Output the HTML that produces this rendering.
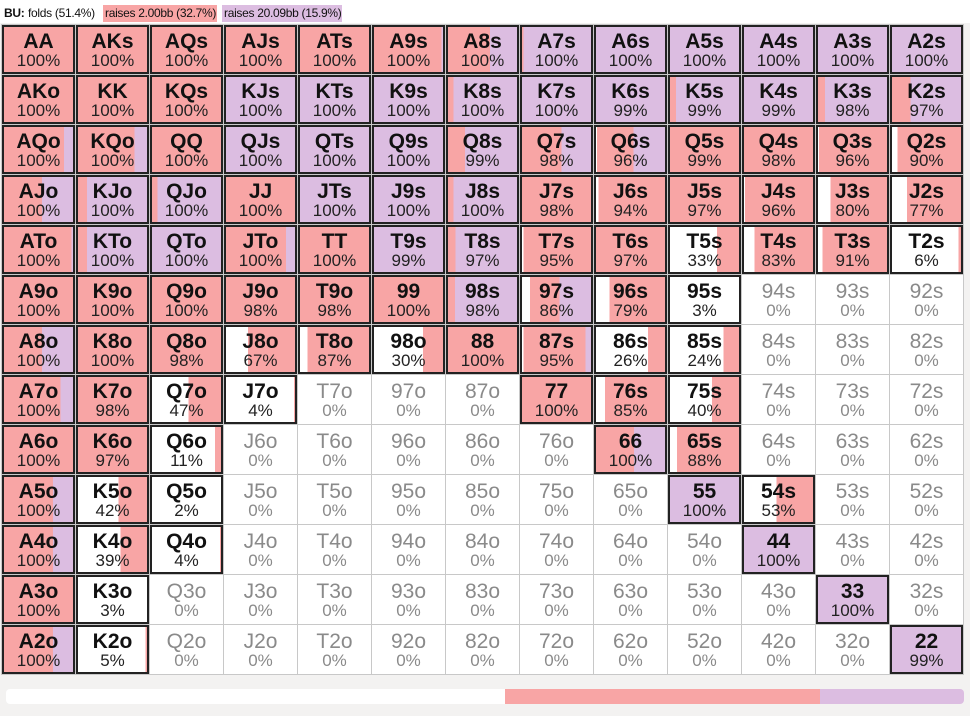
<!DOCTYPE html>
<html><head><meta charset="utf-8"><style>
body{margin:0;width:970px;height:716px;background:#f3f2f1;font-family:"Liberation Sans",Arial,sans-serif;position:relative;overflow:hidden}
.hdr{position:absolute;left:0;top:0;width:970px;height:23px;background:#fff}
.hdr span{position:absolute;top:5px;height:17px;font-size:12px;letter-spacing:-0.3px;line-height:17px;color:#111;box-sizing:border-box;padding-left:2px;white-space:nowrap;overflow:hidden}
.g{position:absolute;left:1px;top:24px;display:grid;grid-template-columns:repeat(13,74px);grid-template-rows:repeat(13,50px);background:#fff;border-left:1px solid #c8c8c8;border-top:1px solid #c8c8c8}
.c{position:relative;border-right:1px solid #c8c8c8;border-bottom:1px solid #c8c8c8;box-sizing:border-box;text-align:center;
background:linear-gradient(to right,#fff 0 var(--f),#f8a5a5 var(--f) var(--p),#dcbde1 var(--p) 100%)}
.c b{position:absolute;left:0;right:0;top:5px;font-size:21px;line-height:24px;color:#111;font-weight:bold}
.c i{position:absolute;left:0;right:0;top:27px;font-style:normal;font-size:17px;line-height:18px;color:#222}
.c.a::after{content:"";position:absolute;inset:0 0 0 0;border:2px solid #222}
.z{background:#fff}
.z b{font-weight:normal;color:#8a8a8a}
.z i{color:#8a8a8a}
.bar{position:absolute;left:6px;top:689px;width:958px;height:15px;border-radius:4px;overflow:hidden;background:linear-gradient(to right,#fff 0 499px,#f8a5a5 499px 814px,#dcbde1 814px)}
</style></head><body>
<div class="hdr">
<span style="left:2px"><b>BU:</b></span>
<span style="left:26px;width:74px;background:#fff">folds (51.4%)</span>
<span style="left:103px;width:114px;background:#f8a5a5">raises 2.00bb (32.7%)</span>
<span style="left:222px;width:120px;background:#dcbde1">raises 20.09bb (15.9%)</span>
</div>
<div class="g">
<div class="c a" style="--f:0%;--p:100%"><b>AA</b><i>100%</i></div>
<div class="c a" style="--f:0%;--p:100%"><b>AKs</b><i>100%</i></div>
<div class="c a" style="--f:0%;--p:100%"><b>AQs</b><i>100%</i></div>
<div class="c a" style="--f:0%;--p:100%"><b>AJs</b><i>100%</i></div>
<div class="c a" style="--f:0%;--p:100%"><b>ATs</b><i>100%</i></div>
<div class="c a" style="--f:0%;--p:95%"><b>A9s</b><i>100%</i></div>
<div class="c a" style="--f:0%;--p:60%"><b>A8s</b><i>100%</i></div>
<div class="c a" style="--f:0%;--p:5%"><b>A7s</b><i>100%</i></div>
<div class="c a" style="--f:0%;--p:0%"><b>A6s</b><i>100%</i></div>
<div class="c a" style="--f:0%;--p:0%"><b>A5s</b><i>100%</i></div>
<div class="c a" style="--f:0%;--p:0%"><b>A4s</b><i>100%</i></div>
<div class="c a" style="--f:0%;--p:0%"><b>A3s</b><i>100%</i></div>
<div class="c a" style="--f:0%;--p:0%"><b>A2s</b><i>100%</i></div>

<div class="c a" style="--f:0%;--p:100%"><b>AKo</b><i>100%</i></div>
<div class="c a" style="--f:0%;--p:100%"><b>KK</b><i>100%</i></div>
<div class="c a" style="--f:0%;--p:100%"><b>KQs</b><i>100%</i></div>
<div class="c a" style="--f:0%;--p:0%"><b>KJs</b><i>100%</i></div>
<div class="c a" style="--f:0%;--p:0%"><b>KTs</b><i>100%</i></div>
<div class="c a" style="--f:0%;--p:0%"><b>K9s</b><i>100%</i></div>
<div class="c a" style="--f:0%;--p:10%"><b>K8s</b><i>100%</i></div>
<div class="c a" style="--f:0%;--p:0%"><b>K7s</b><i>100%</i></div>
<div class="c a" style="--f:1%;--p:1%"><b>K6s</b><i>99%</i></div>
<div class="c a" style="--f:1%;--p:11%"><b>K5s</b><i>99%</i></div>
<div class="c a" style="--f:1%;--p:1%"><b>K4s</b><i>99%</i></div>
<div class="c a" style="--f:2%;--p:12%"><b>K3s</b><i>98%</i></div>
<div class="c a" style="--f:3%;--p:28%"><b>K2s</b><i>97%</i></div>

<div class="c a" style="--f:0%;--p:85%"><b>AQo</b><i>100%</i></div>
<div class="c a" style="--f:0%;--p:80%"><b>KQo</b><i>100%</i></div>
<div class="c a" style="--f:0%;--p:100%"><b>QQ</b><i>100%</i></div>
<div class="c a" style="--f:0%;--p:0%"><b>QJs</b><i>100%</i></div>
<div class="c a" style="--f:0%;--p:0%"><b>QTs</b><i>100%</i></div>
<div class="c a" style="--f:0%;--p:0%"><b>Q9s</b><i>100%</i></div>
<div class="c a" style="--f:1%;--p:26%"><b>Q8s</b><i>99%</i></div>
<div class="c a" style="--f:2%;--p:57%"><b>Q7s</b><i>98%</i></div>
<div class="c a" style="--f:4%;--p:54%"><b>Q6s</b><i>96%</i></div>
<div class="c a" style="--f:1%;--p:100%"><b>Q5s</b><i>99%</i></div>
<div class="c a" style="--f:2%;--p:97%"><b>Q4s</b><i>98%</i></div>
<div class="c a" style="--f:4%;--p:100%"><b>Q3s</b><i>96%</i></div>
<div class="c a" style="--f:10%;--p:100%"><b>Q2s</b><i>90%</i></div>

<div class="c a" style="--f:0%;--p:55%"><b>AJo</b><i>100%</i></div>
<div class="c a" style="--f:0%;--p:15%"><b>KJo</b><i>100%</i></div>
<div class="c a" style="--f:0%;--p:10%"><b>QJo</b><i>100%</i></div>
<div class="c a" style="--f:0%;--p:100%"><b>JJ</b><i>100%</i></div>
<div class="c a" style="--f:0%;--p:0%"><b>JTs</b><i>100%</i></div>
<div class="c a" style="--f:0%;--p:0%"><b>J9s</b><i>100%</i></div>
<div class="c a" style="--f:0%;--p:10%"><b>J8s</b><i>100%</i></div>
<div class="c a" style="--f:2%;--p:100%"><b>J7s</b><i>98%</i></div>
<div class="c a" style="--f:6%;--p:100%"><b>J6s</b><i>94%</i></div>
<div class="c a" style="--f:3%;--p:100%"><b>J5s</b><i>97%</i></div>
<div class="c a" style="--f:4%;--p:100%"><b>J4s</b><i>96%</i></div>
<div class="c a" style="--f:20%;--p:100%"><b>J3s</b><i>80%</i></div>
<div class="c a" style="--f:23%;--p:100%"><b>J2s</b><i>77%</i></div>

<div class="c a" style="--f:0%;--p:95%"><b>ATo</b><i>100%</i></div>
<div class="c a" style="--f:0%;--p:15%"><b>KTo</b><i>100%</i></div>
<div class="c a" style="--f:0%;--p:0%"><b>QTo</b><i>100%</i></div>
<div class="c a" style="--f:0%;--p:85%"><b>JTo</b><i>100%</i></div>
<div class="c a" style="--f:0%;--p:100%"><b>TT</b><i>100%</i></div>
<div class="c a" style="--f:1%;--p:1%"><b>T9s</b><i>99%</i></div>
<div class="c a" style="--f:3%;--p:13%"><b>T8s</b><i>97%</i></div>
<div class="c a" style="--f:5%;--p:100%"><b>T7s</b><i>95%</i></div>
<div class="c a" style="--f:3%;--p:100%"><b>T6s</b><i>97%</i></div>
<div class="c a" style="--f:67%;--p:100%"><b>T5s</b><i>33%</i></div>
<div class="c a" style="--f:17%;--p:100%"><b>T4s</b><i>83%</i></div>
<div class="c a" style="--f:9%;--p:100%"><b>T3s</b><i>91%</i></div>
<div class="c a" style="--f:94%;--p:100%"><b>T2s</b><i>6%</i></div>

<div class="c a" style="--f:0%;--p:100%"><b>A9o</b><i>100%</i></div>
<div class="c a" style="--f:0%;--p:100%"><b>K9o</b><i>100%</i></div>
<div class="c a" style="--f:0%;--p:100%"><b>Q9o</b><i>100%</i></div>
<div class="c a" style="--f:2%;--p:100%"><b>J9o</b><i>98%</i></div>
<div class="c a" style="--f:2%;--p:100%"><b>T9o</b><i>98%</i></div>
<div class="c a" style="--f:0%;--p:100%"><b>99</b><i>100%</i></div>
<div class="c a" style="--f:2%;--p:12%"><b>98s</b><i>98%</i></div>
<div class="c a" style="--f:14%;--p:54%"><b>97s</b><i>86%</i></div>
<div class="c a" style="--f:21%;--p:100%"><b>96s</b><i>79%</i></div>
<div class="c a" style="--f:97%;--p:100%"><b>95s</b><i>3%</i></div>
<div class="c z"><b>94s</b><i>0%</i></div>
<div class="c z"><b>93s</b><i>0%</i></div>
<div class="c z"><b>92s</b><i>0%</i></div>

<div class="c a" style="--f:0%;--p:55%"><b>A8o</b><i>100%</i></div>
<div class="c a" style="--f:0%;--p:100%"><b>K8o</b><i>100%</i></div>
<div class="c a" style="--f:2%;--p:100%"><b>Q8o</b><i>98%</i></div>
<div class="c a" style="--f:33%;--p:100%"><b>J8o</b><i>67%</i></div>
<div class="c a" style="--f:13%;--p:100%"><b>T8o</b><i>87%</i></div>
<div class="c a" style="--f:70%;--p:100%"><b>98o</b><i>30%</i></div>
<div class="c a" style="--f:0%;--p:100%"><b>88</b><i>100%</i></div>
<div class="c a" style="--f:5%;--p:90%"><b>87s</b><i>95%</i></div>
<div class="c a" style="--f:74%;--p:100%"><b>86s</b><i>26%</i></div>
<div class="c a" style="--f:76%;--p:100%"><b>85s</b><i>24%</i></div>
<div class="c z"><b>84s</b><i>0%</i></div>
<div class="c z"><b>83s</b><i>0%</i></div>
<div class="c z"><b>82s</b><i>0%</i></div>

<div class="c a" style="--f:0%;--p:80%"><b>A7o</b><i>100%</i></div>
<div class="c a" style="--f:2%;--p:100%"><b>K7o</b><i>98%</i></div>
<div class="c a" style="--f:53%;--p:100%"><b>Q7o</b><i>47%</i></div>
<div class="c a" style="--f:96%;--p:100%"><b>J7o</b><i>4%</i></div>
<div class="c z"><b>T7o</b><i>0%</i></div>
<div class="c z"><b>97o</b><i>0%</i></div>
<div class="c z"><b>87o</b><i>0%</i></div>
<div class="c a" style="--f:0%;--p:100%"><b>77</b><i>100%</i></div>
<div class="c a" style="--f:15%;--p:100%"><b>76s</b><i>85%</i></div>
<div class="c a" style="--f:60%;--p:100%"><b>75s</b><i>40%</i></div>
<div class="c z"><b>74s</b><i>0%</i></div>
<div class="c z"><b>73s</b><i>0%</i></div>
<div class="c z"><b>72s</b><i>0%</i></div>

<div class="c a" style="--f:0%;--p:100%"><b>A6o</b><i>100%</i></div>
<div class="c a" style="--f:3%;--p:100%"><b>K6o</b><i>97%</i></div>
<div class="c a" style="--f:89%;--p:100%"><b>Q6o</b><i>11%</i></div>
<div class="c z"><b>J6o</b><i>0%</i></div>
<div class="c z"><b>T6o</b><i>0%</i></div>
<div class="c z"><b>96o</b><i>0%</i></div>
<div class="c z"><b>86o</b><i>0%</i></div>
<div class="c z"><b>76o</b><i>0%</i></div>
<div class="c a" style="--f:0%;--p:55%"><b>66</b><i>100%</i></div>
<div class="c a" style="--f:12%;--p:100%"><b>65s</b><i>88%</i></div>
<div class="c z"><b>64s</b><i>0%</i></div>
<div class="c z"><b>63s</b><i>0%</i></div>
<div class="c z"><b>62s</b><i>0%</i></div>

<div class="c a" style="--f:0%;--p:70%"><b>A5o</b><i>100%</i></div>
<div class="c a" style="--f:58%;--p:100%"><b>K5o</b><i>42%</i></div>
<div class="c a" style="--f:98%;--p:100%"><b>Q5o</b><i>2%</i></div>
<div class="c z"><b>J5o</b><i>0%</i></div>
<div class="c z"><b>T5o</b><i>0%</i></div>
<div class="c z"><b>95o</b><i>0%</i></div>
<div class="c z"><b>85o</b><i>0%</i></div>
<div class="c z"><b>75o</b><i>0%</i></div>
<div class="c z"><b>65o</b><i>0%</i></div>
<div class="c a" style="--f:0%;--p:0%"><b>55</b><i>100%</i></div>
<div class="c a" style="--f:47%;--p:100%"><b>54s</b><i>53%</i></div>
<div class="c z"><b>53s</b><i>0%</i></div>
<div class="c z"><b>52s</b><i>0%</i></div>

<div class="c a" style="--f:0%;--p:70%"><b>A4o</b><i>100%</i></div>
<div class="c a" style="--f:61%;--p:100%"><b>K4o</b><i>39%</i></div>
<div class="c a" style="--f:96%;--p:100%"><b>Q4o</b><i>4%</i></div>
<div class="c z"><b>J4o</b><i>0%</i></div>
<div class="c z"><b>T4o</b><i>0%</i></div>
<div class="c z"><b>94o</b><i>0%</i></div>
<div class="c z"><b>84o</b><i>0%</i></div>
<div class="c z"><b>74o</b><i>0%</i></div>
<div class="c z"><b>64o</b><i>0%</i></div>
<div class="c z"><b>54o</b><i>0%</i></div>
<div class="c a" style="--f:0%;--p:0%"><b>44</b><i>100%</i></div>
<div class="c z"><b>43s</b><i>0%</i></div>
<div class="c z"><b>42s</b><i>0%</i></div>

<div class="c a" style="--f:0%;--p:100%"><b>A3o</b><i>100%</i></div>
<div class="c a" style="--f:97%;--p:100%"><b>K3o</b><i>3%</i></div>
<div class="c z"><b>Q3o</b><i>0%</i></div>
<div class="c z"><b>J3o</b><i>0%</i></div>
<div class="c z"><b>T3o</b><i>0%</i></div>
<div class="c z"><b>93o</b><i>0%</i></div>
<div class="c z"><b>83o</b><i>0%</i></div>
<div class="c z"><b>73o</b><i>0%</i></div>
<div class="c z"><b>63o</b><i>0%</i></div>
<div class="c z"><b>53o</b><i>0%</i></div>
<div class="c z"><b>43o</b><i>0%</i></div>
<div class="c a" style="--f:0%;--p:0%"><b>33</b><i>100%</i></div>
<div class="c z"><b>32s</b><i>0%</i></div>

<div class="c a" style="--f:0%;--p:70%"><b>A2o</b><i>100%</i></div>
<div class="c a" style="--f:95%;--p:100%"><b>K2o</b><i>5%</i></div>
<div class="c z"><b>Q2o</b><i>0%</i></div>
<div class="c z"><b>J2o</b><i>0%</i></div>
<div class="c z"><b>T2o</b><i>0%</i></div>
<div class="c z"><b>92o</b><i>0%</i></div>
<div class="c z"><b>82o</b><i>0%</i></div>
<div class="c z"><b>72o</b><i>0%</i></div>
<div class="c z"><b>62o</b><i>0%</i></div>
<div class="c z"><b>52o</b><i>0%</i></div>
<div class="c z"><b>42o</b><i>0%</i></div>
<div class="c z"><b>32o</b><i>0%</i></div>
<div class="c a" style="--f:1%;--p:1%"><b>22</b><i>99%</i></div>
</div>
<div class="bar"></div>
</body></html>
